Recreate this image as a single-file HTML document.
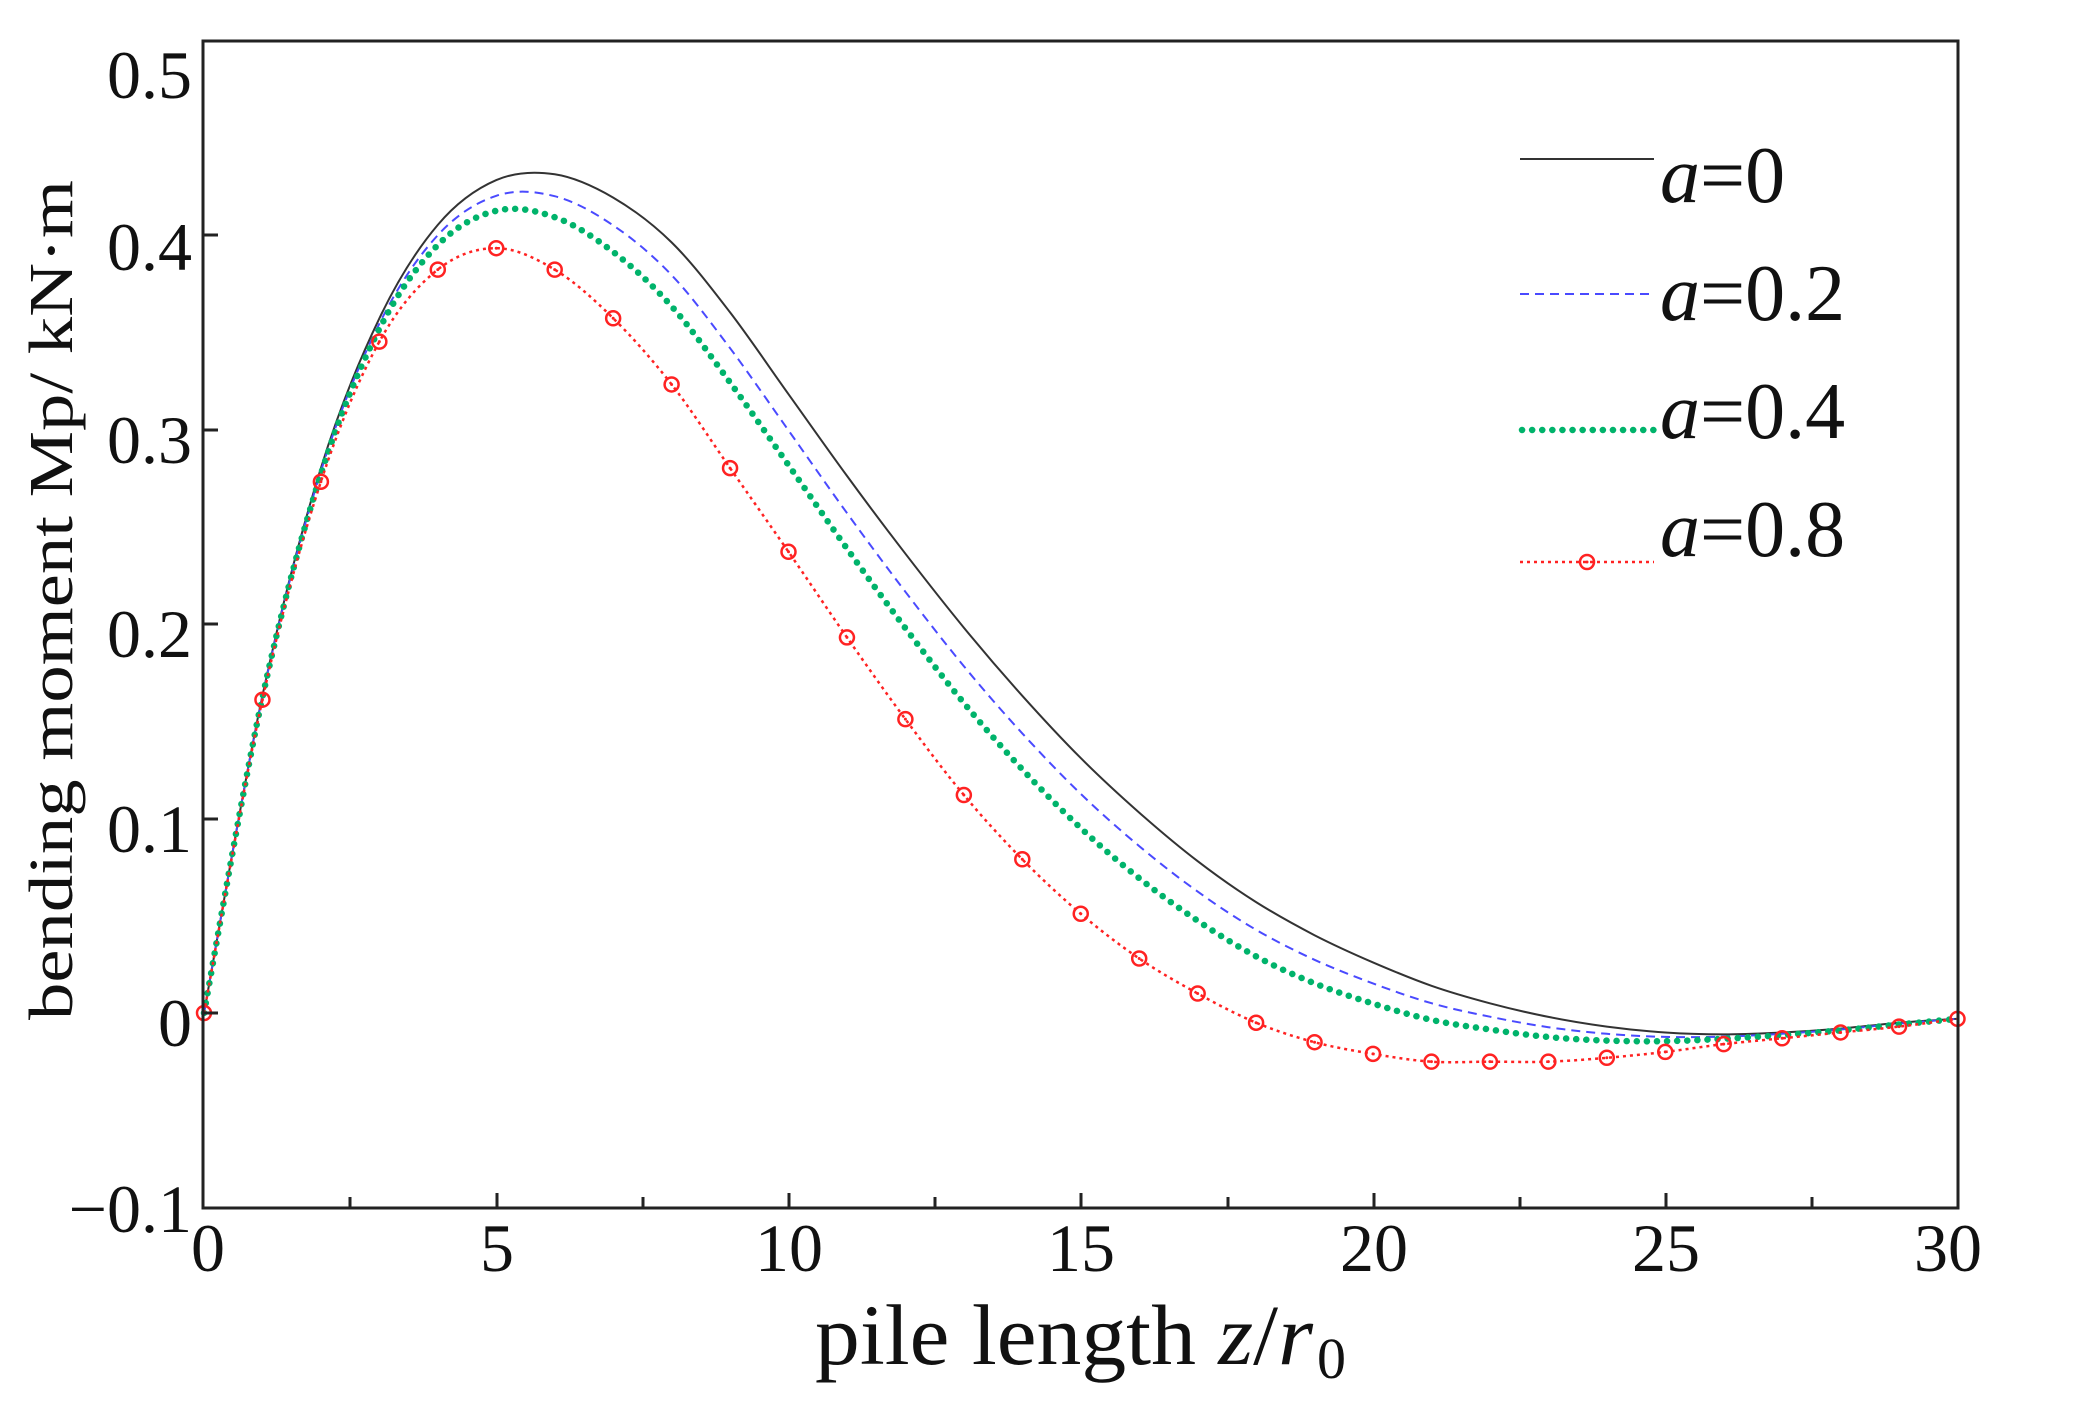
<!DOCTYPE html>
<html><head><meta charset="utf-8"><style>
html,body{margin:0;padding:0;background:#fff;}
svg{display:block;}
text{font-family:"Liberation Serif",serif;fill:#111;}
</style></head><body>
<svg id="s" width="2088" height="1404" viewBox="0 0 2088 1404" xmlns="http://www.w3.org/2000/svg">
<rect width="2088" height="1404" fill="#fff"/>
<g id="curves"></g>
<rect x="203" y="41" width="1755" height="1167" fill="none" stroke="#222" stroke-width="3"/>
<g stroke="#222" stroke-width="3">
<line x1="350" y1="1208" x2="350" y2="1197"/><line x1="497" y1="1208" x2="497" y2="1193"/>
<line x1="643" y1="1208" x2="643" y2="1197"/><line x1="789" y1="1208" x2="789" y2="1193"/>
<line x1="935" y1="1208" x2="935" y2="1197"/><line x1="1081" y1="1208" x2="1081" y2="1193"/>
<line x1="1228" y1="1208" x2="1228" y2="1197"/><line x1="1374" y1="1208" x2="1374" y2="1193"/>
<line x1="1520" y1="1208" x2="1520" y2="1197"/><line x1="1666" y1="1208" x2="1666" y2="1193"/>
<line x1="1812" y1="1208" x2="1812" y2="1197"/>
<line x1="203" y1="235" x2="218" y2="235"/><line x1="203" y1="430" x2="218" y2="430"/>
<line x1="203" y1="624" x2="218" y2="624"/><line x1="203" y1="819" x2="218" y2="819"/>
<line x1="203" y1="1013" x2="218" y2="1013"/>
</g>
<g font-size="68" text-anchor="end">
<text x="192" y="98">0.5</text>
<text x="192" y="270">0.4</text>
<text x="192" y="463">0.3</text>
<text x="192" y="657">0.2</text>
<text x="192" y="852">0.1</text>
<text x="192" y="1046">0</text>
<text x="192" y="1232">−0.1</text>
</g>
<g font-size="68" text-anchor="middle">
<text x="208" y="1271">0</text>
<text x="497" y="1271">5</text>
<text x="789" y="1271">10</text>
<text x="1081" y="1271">15</text>
<text x="1374" y="1271">20</text>
<text x="1666" y="1271">25</text>
<text x="1948" y="1271">30</text>
</g>
<text transform="translate(72,600) rotate(-90)" font-size="62" text-anchor="middle" textLength="840" lengthAdjust="spacingAndGlyphs">bending moment Mp/ kN·m</text>
<text x="815" y="1364" font-size="86" textLength="498" lengthAdjust="spacingAndGlyphs">pile length <tspan font-style="italic">z</tspan>/<tspan font-style="italic">r</tspan></text>
<text x="1317" y="1378" font-size="58">0</text>
<g>
<line x1="1520" y1="159" x2="1654" y2="159" stroke="#333" stroke-width="2"/>
<line x1="1520" y1="294" x2="1654" y2="294" stroke="#4a4aff" stroke-width="2" stroke-dasharray="9,6"/>
<line x1="1522" y1="430" x2="1654" y2="430" stroke="#00b36b" stroke-width="6.5" stroke-dasharray="0.1,10" stroke-linecap="round"/>
<line x1="1520" y1="562" x2="1654" y2="562" stroke="#f22" stroke-width="2.5" stroke-dasharray="3,4"/>
<circle cx="1587" cy="562" r="7" fill="none" stroke="#f22" stroke-width="2.5"/><circle cx="1587" cy="562" r="1.5" fill="#f22"/>
</g>
<g font-size="80">
<text x="1660" y="202"><tspan font-style="italic">a</tspan>=0</text>
<text x="1660" y="320"><tspan font-style="italic">a</tspan>=0.2</text>
<text x="1660" y="438"><tspan font-style="italic">a</tspan>=0.4</text>
<text x="1660" y="556"><tspan font-style="italic">a</tspan>=0.8</text>
</g>
</svg>
<script>
(function(){
var X0=204,UX=58.45,Y0=1013,UY=1946;
function px(z){return X0+z*UX;} function py(v){return Y0-v*UY;}
var red=[0,.161,.273,.345,.382,.393,.382,.357,.323,.280,.237,.193,.151,.112,.079,.051,.028,.010,-.005,-.015,-.021,-.025,-.025,-.025,-.023,-.020,-.016,-.013,-.010,-.007,-.003];
var blk=[0,.163,.280,.357,.405,.428,.431,.419,.396,.360,.318,.276,.236,.198,.163,.131,.103,.078,.057,.040,.026,.014,.005,-.002,-.007,-.010,-.011,-.010,-.008,-.005,-.003];
function mix(w){return blk.map(function(b,i){return b+w*(red[i]-b);});}
function path(arr){
 var p=arr.map(function(v,i){return [px(i),py(v)];});
 var d="M"+p[0][0]+","+p[0][1];
 for(var i=0;i<p.length-1;i++){
  var p0=p[i-1]||p[i],p1=p[i],p2=p[i+1],p3=p[i+2]||p2;
  var c1=[p1[0]+(p2[0]-p0[0])/6,p1[1]+(p2[1]-p0[1])/6];
  var c2=[p2[0]-(p3[0]-p1[0])/6,p2[1]-(p3[1]-p1[1])/6];
  d+=" C"+c1[0].toFixed(1)+","+c1[1].toFixed(1)+" "+c2[0].toFixed(1)+","+c2[1].toFixed(1)+" "+p2[0].toFixed(1)+","+p2[1].toFixed(1);
 }
 return d;
}
var g=document.getElementById("curves"),ns="http://www.w3.org/2000/svg";
function add(d,attrs){var e=document.createElementNS(ns,"path");e.setAttribute("d",d);e.setAttribute("fill","none");for(var k in attrs)e.setAttribute(k,attrs[k]);g.appendChild(e);}
add(path(blk),{stroke:"#333","stroke-width":"2"});
add(path(mix(0.23)),{stroke:"#4a4aff","stroke-width":"2","stroke-dasharray":"9,6"});
add(path(mix(0.45)),{stroke:"#00b36b","stroke-width":"6.5","stroke-dasharray":"0.1,10","stroke-linecap":"round"});
add(path(red),{stroke:"#f22","stroke-width":"2.5","stroke-dasharray":"3,4"});
red.forEach(function(v,i){
 var c=document.createElementNS(ns,"circle");c.setAttribute("cx",px(i));c.setAttribute("cy",py(v));c.setAttribute("r",7);c.setAttribute("fill","none");c.setAttribute("stroke","#f22");c.setAttribute("stroke-width","2.5");g.appendChild(c);
 var d=document.createElementNS(ns,"circle");d.setAttribute("cx",px(i));d.setAttribute("cy",py(v));d.setAttribute("r",1.5);d.setAttribute("fill","#f22");g.appendChild(d);
});
})();
</script>
</body></html>
